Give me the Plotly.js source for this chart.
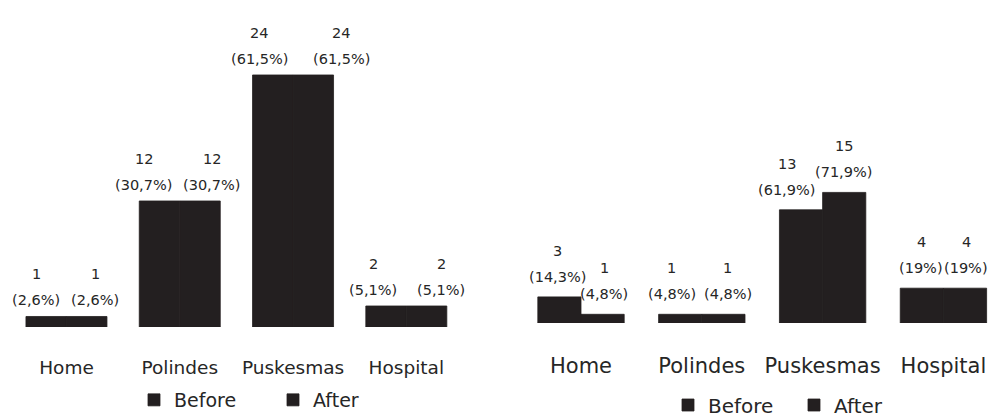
<!DOCTYPE html>
<html>
<head>
<meta charset="utf-8">
<script src="https://cdn.plot.ly/plotly-3.0.1.min.js"></script>
<style>html,body{margin:0;padding:0;background:#fff;}#chart{width:992px;height:419px;}</style>
</head>
<body>
<div id="chart"></div>
<script>
// ---- data ----
const categories = ["Home", "Polindes", "Puskesmas", "Hospital"];
const leftBefore = [1, 12, 24, 2];
const leftAfter = [1, 12, 24, 2];
const leftBeforePct = [2.6, 30.7, 61.5, 5.1];
const leftAfterPct = [2.6, 30.7, 61.5, 5.1];
const rightBefore = [3, 1, 13, 4];
const rightAfter = [1, 1, 15, 4];
const rightBeforePct = [14.3, 4.8, 61.9, 19];
const rightAfterPct = [4.8, 4.8, 71.9, 19];
const seriesNames = ["Before", "After"];

// ---- styles ----
const BAR = "#231f20";
const TXT = "#262626";
const FONT = "DejaVu Sans";
// horizontal label offsets (px) from category centre
const offLB = [-30, -36, -34, -33];
const offLA = [29, 32, 48, 35];
const offRB = [-24, -30, -36, -22];
const offRA = [23, 26, 21, 23];

function fmtPct(v) { return "(" + String(v).replace(".", ",") + "%)"; }

function barTrace(y, name, xa, ya, lg) {
  return {type: "bar", x: categories, y: y, name: name, xaxis: xa, yaxis: ya,
    marker: {color: BAR, line: {color: BAR, width: 0.8}}, legend: lg, hoverinfo: "skip"};
}
const traces = [
  barTrace(leftBefore, seriesNames[0], "x", "y", "legend"),
  barTrace(leftAfter, seriesNames[1], "x", "y", "legend"),
  barTrace(rightBefore, seriesNames[0], "x2", "y2", "legend2"),
  barTrace(rightAfter, seriesNames[1], "x2", "y2", "legend2")
];

const annotations = [];
function addLabels(vals, pcts, xref, yref, offs, pctShift, numShift) {
  vals.forEach((v, i) => {
    annotations.push({x: categories[i], y: v, xref: xref, yref: yref, xshift: offs[i],
      yshift: pctShift, yanchor: "middle", xanchor: "center", showarrow: false,
      text: fmtPct(pcts[i]), font: {family: FONT, size: 14.5, color: TXT}});
    annotations.push({x: categories[i], y: v, xref: xref, yref: yref, xshift: offs[i],
      yshift: numShift, yanchor: "middle", xanchor: "center", showarrow: false,
      text: String(v), font: {family: FONT, size: 14.5, color: TXT}});
  });
}
addLabels(leftBefore, leftBeforePct, "x", "y", offLB, 16, 42);
addLabels(leftAfter, leftAfterPct, "x", "y", offLA, 16, 42);
addLabels(rightBefore, rightBeforePct, "x2", "y2", offRB, 20, 46);
addLabels(rightAfter, rightAfterPct, "x2", "y2", offRA, 20, 46);

const layout = {
  width: 992, height: 419, autosize: false,
  margin: {l: 0, r: 0, t: 0, b: 0, autoexpand: false},
  paper_bgcolor: "#fff", plot_bgcolor: "#fff",
  barmode: "group", bargap: 0.285, bargroupgap: 0,
  font: {family: FONT, color: TXT},
  xaxis: {domain: [0.0099, 0.4667], range: [-0.5, 3.5], showline: false, showgrid: false, zeroline: false,
    ticks: "outside", ticklen: 24, tickcolor: "rgba(0,0,0,0)", tickfont: {family: FONT, size: 18.5, color: TXT}},
  yaxis: {domain: [0.2196, 1], range: [0, 31.14], visible: false, fixedrange: true},
  xaxis2: {domain: [0.5248, 1], range: [-0.5, 3.402], anchor: "y2", showline: false, showgrid: false, zeroline: false,
    ticks: "outside", ticklen: 24, tickcolor: "rgba(0,0,0,0)", tickfont: {family: FONT, size: 21, color: TXT}},
  yaxis2: {domain: [0.2291, 1], range: [0, 37.1], visible: false, anchor: "x2", fixedrange: true},
  showlegend: true,
  legend: {orientation: "h", xref: "container", yref: "container", x: 134 / 992, y: 1 - 400 / 419,
    xanchor: "left", yanchor: "middle",
    font: {family: FONT, size: 19, color: TXT}, itemwidth: 30, entrywidth: 94, entrywidthmode: "pixels",
    bgcolor: "rgba(0,0,0,0)"},
  legend2: {orientation: "h", xref: "container", yref: "container", x: 668 / 992, y: 1 - 405 / 419,
    xanchor: "left", yanchor: "middle",
    font: {family: FONT, size: 20, color: TXT}, itemwidth: 30, entrywidth: 81, entrywidthmode: "pixels",
    bgcolor: "rgba(0,0,0,0)"},
  annotations: annotations
};

Plotly.newPlot("chart", traces, layout, {displayModeBar: false, staticPlot: true});
</script>
</body>
</html>
